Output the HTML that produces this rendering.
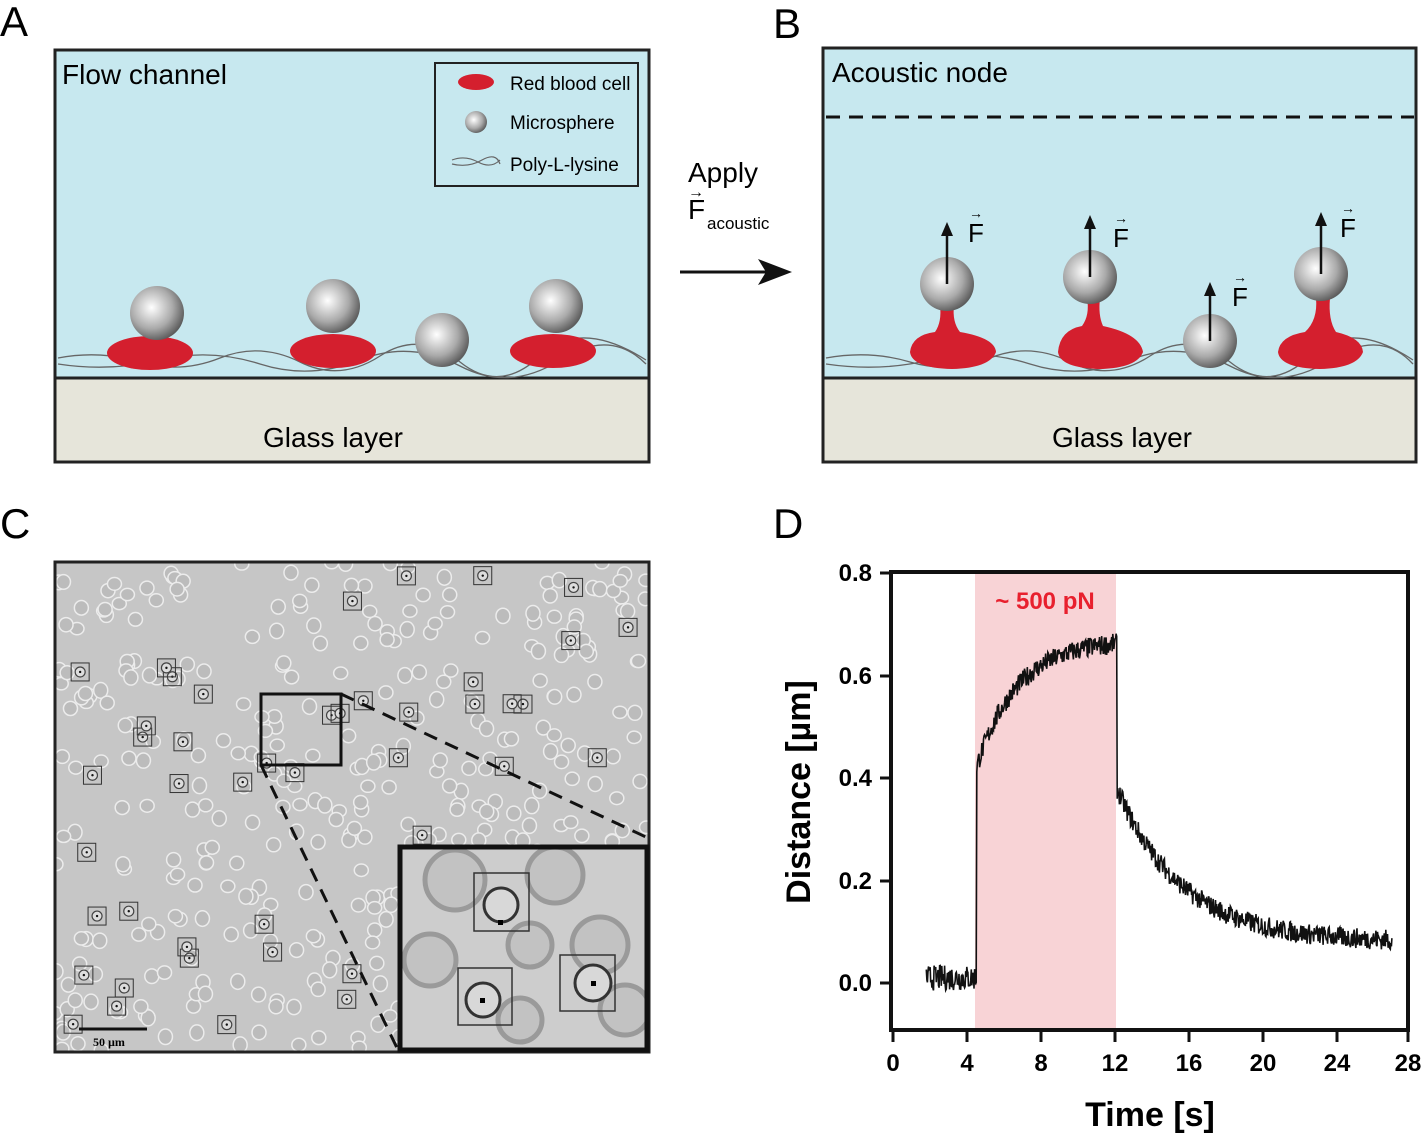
<!DOCTYPE html>
<html><head><meta charset="utf-8"><style>
body{margin:0;background:#fff;width:1425px;height:1135px;overflow:hidden;font-family:"Liberation Sans",sans-serif}
svg{position:absolute;left:0;top:0}
</style></head><body>
<svg id="s" width="1425" height="1135" viewBox="0 0 1425 1135" font-family="Liberation Sans, sans-serif">
<defs>
<radialGradient id="g" cx="0.4" cy="0.4" r="0.65"><stop offset="0" stop-color="#fff"/><stop offset="0.6" stop-color="#aaa"/><stop offset="1" stop-color="#555"/></radialGradient>
<clipPath id="cc"><rect x="55" y="562" width="594" height="490"/></clipPath>
<clipPath id="ci"><rect x="400" y="847" width="247" height="203"/></clipPath>
</defs>
<text x="0" y="36" font-size="42">A</text>
<text x="773" y="38" font-size="42">B</text>
<text x="0" y="538" font-size="42">C</text>
<text x="773" y="538" font-size="42">D</text>
<!-- Panel A -->
<rect x="55" y="50" width="594" height="328" fill="#c7e8ef" stroke="#222" stroke-width="3"/>
<rect x="55" y="378" width="594" height="84" fill="#e6e5da" stroke="#222" stroke-width="3"/>
<text x="62" y="84" font-size="28">Flow channel</text>
<text x="333" y="447" font-size="28" text-anchor="middle">Glass layer</text>
<g fill="none" stroke="#666" stroke-width="1.3">
<path d="M58 358 Q100 350 140 362 T220 358 T300 362 T380 356 T460 362 T540 356 T646 360"/>
<path d="M58 364 Q110 372 160 360 T260 364 T360 360 T460 366 T560 360 T646 364"/>
</g>
<rect x="435" y="63" width="203" height="123" fill="none" stroke="#222" stroke-width="2"/>
<ellipse cx="476" cy="82" rx="18" ry="8" fill="#d41f2e"/>
<text x="510" y="90" font-size="19">Red blood cell</text>
<circle cx="476" cy="122" r="11" fill="url(#g)"/>
<text x="510" y="129" font-size="19">Microsphere</text>
<path d="M452 160 Q465 155 478 162 T500 160 M452 164 Q468 168 482 160 T500 164" fill="none" stroke="#666" stroke-width="1.2"/>
<text x="510" y="171" font-size="19">Poly-L-lysine</text>
<ellipse cx="150" cy="353" rx="43" ry="17" fill="#d41f2e"/>
<ellipse cx="333" cy="351" rx="43" ry="17" fill="#d41f2e"/>
<ellipse cx="553" cy="351" rx="43" ry="17" fill="#d41f2e"/>
<circle cx="157" cy="313" r="27" fill="url(#g)"/>
<circle cx="333" cy="306" r="27" fill="url(#g)"/>
<circle cx="442" cy="340" r="27" fill="url(#g)"/>
<circle cx="556" cy="306" r="27" fill="url(#g)"/>
<text x="688" y="182" font-size="28">Apply</text>
<text x="688" y="219" font-size="28">F</text>
<text x="688" y="197" font-size="16">→</text>
<text x="707" y="229" font-size="17">acoustic</text>
<line x1="680" y1="272" x2="770" y2="272" stroke="#111" stroke-width="3"/>
<polygon points="792,272 758,259 766,272 758,285" fill="#111"/>
<!-- Panel B -->
<rect x="823" y="48" width="593" height="330" fill="#c7e8ef" stroke="#222" stroke-width="3"/>
<rect x="823" y="378" width="593" height="84" fill="#e6e5da" stroke="#222" stroke-width="3"/>
<text x="832" y="82" font-size="28">Acoustic node</text>
<line x1="826" y1="117" x2="1414" y2="117" stroke="#111" stroke-width="3" stroke-dasharray="14 9"/>
<text x="1122" y="447" font-size="28" text-anchor="middle">Glass layer</text>
<g fill="none" stroke="#666" stroke-width="1.3">
<path d="M826 358 Q870 350 910 362 T990 358 T1070 362 T1150 356 T1230 362 T1310 356 T1413 360"/>
<path d="M826 364 Q880 372 930 360 T1030 364 T1130 360 T1230 366 T1330 360 T1413 364"/>
</g>
<g fill="#d41f2e">
<path d="M910 352 Q912 335 935 332 Q942 322 940 305 L954 305 Q952 322 960 332 Q995 338 996 352 Q990 368 952 369 Q912 368 910 352Z"/>
<path d="M1058 352 Q1060 330 1082 326 Q1090 315 1087 298 L1100 298 Q1098 315 1103 326 Q1140 334 1143 352 Q1137 368 1100 369 Q1060 368 1058 352Z"/>
<path d="M1278 352 Q1280 336 1305 332 Q1318 320 1316 298 L1330 298 Q1328 320 1336 332 Q1362 338 1363 352 Q1357 368 1320 369 Q1280 368 1278 352Z"/>
</g>
<circle cx="947" cy="284" r="27" fill="url(#g)"/>
<circle cx="1090" cy="277" r="27" fill="url(#g)"/>
<circle cx="1210" cy="341" r="27" fill="url(#g)"/>
<circle cx="1321" cy="274" r="27" fill="url(#g)"/>
<g stroke="#111" stroke-width="2.5" fill="#111">
<line x1="947" y1="284" x2="947" y2="232"/><polygon points="947,222 941,236 953,236" stroke="none"/>
<line x1="1090" y1="277" x2="1090" y2="225"/><polygon points="1090,215 1084,229 1096,229" stroke="none"/>
<line x1="1210" y1="341" x2="1210" y2="292"/><polygon points="1210,282 1204,296 1216,296" stroke="none"/>
<line x1="1321" y1="274" x2="1321" y2="222"/><polygon points="1321,212 1315,226 1327,226" stroke="none"/>
</g>
<g font-size="26"><text x="968" y="242">F</text><text x="1113" y="247">F</text><text x="1232" y="306">F</text><text x="1340" y="237">F</text></g>
<g font-size="14"><text x="969" y="218">→</text><text x="1114" y="223">→</text><text x="1233" y="282">→</text><text x="1341" y="213">→</text></g>
<!-- Panel C -->
<rect x="55" y="562" width="594" height="490" fill="#c6c6c6"/>
<g id="cells" clip-path="url(#cc)"></g>
<rect x="55" y="562" width="594" height="490" fill="none" stroke="#222" stroke-width="3"/>
<rect x="261" y="694" width="80" height="71" fill="none" stroke="#111" stroke-width="3"/>
<line x1="341" y1="694" x2="648" y2="838" stroke="#111" stroke-width="3" stroke-dasharray="14 9"/>
<line x1="261" y1="765" x2="398" y2="1050" stroke="#111" stroke-width="3" stroke-dasharray="14 9"/>
<rect x="400" y="847" width="247" height="203" fill="#cdcdcd"/>
<g clip-path="url(#ci)" fill="#c2c2c2" stroke="#9a9a9a" stroke-width="5">
<circle cx="455" cy="880" r="30"/><circle cx="555" cy="875" r="28"/><circle cx="430" cy="960" r="26"/><circle cx="530" cy="945" r="22"/><circle cx="600" cy="945" r="28"/><circle cx="625" cy="1010" r="25"/><circle cx="520" cy="1020" r="22"/>
</g>
<g fill="none" stroke="#333" stroke-width="1.5">
<rect x="474" y="873" width="55" height="58"/><rect x="458" y="968" width="54" height="57"/><rect x="560" y="955" width="55" height="56"/>
<circle cx="501" cy="905" r="17" stroke-width="3" fill="#d8d8d8"/><circle cx="483" cy="1000" r="17" stroke-width="3" fill="#d8d8d8"/><circle cx="593" cy="983" r="18" stroke-width="3" fill="#d8d8d8"/>
</g>
<rect x="498" y="920" width="5" height="5"/><rect x="480" y="998" width="5" height="5"/><rect x="591" y="981" width="5" height="5"/>
<rect x="400" y="847" width="247" height="203" fill="none" stroke="#111" stroke-width="5"/>
<line x1="79" y1="1029" x2="147" y2="1029" stroke="#111" stroke-width="3"/>
<text x="93" y="1046" font-size="12" font-weight="bold" font-family="Liberation Serif, serif">50 µm</text>
<!-- Panel D -->
<rect x="975" y="573" width="141" height="456" fill="#f8d3d6"/>
<text x="1045" y="609" font-size="24" font-weight="bold" fill="#e8202e" text-anchor="middle">~ 500 pN</text>
<path id="trace" fill="none" stroke="#111" stroke-width="1.6"/>
<rect x="891" y="572" width="517" height="458" fill="none" stroke="#111" stroke-width="4"/>
<g font-size="24" font-weight="bold" text-anchor="end">
<text x="872" y="581">0.8</text><text x="872" y="684">0.6</text><text x="872" y="786">0.4</text><text x="872" y="889">0.2</text><text x="872" y="991">0.0</text>
</g>
<g stroke="#111" stroke-width="3"><line x1="880" y1="573" x2="891" y2="573"/><line x1="880" y1="676" x2="891" y2="676"/><line x1="880" y1="778" x2="891" y2="778"/><line x1="880" y1="881" x2="891" y2="881"/><line x1="880" y1="983" x2="891" y2="983"/></g>
<g font-size="24" font-weight="bold" text-anchor="middle">
<text x="893" y="1071">0</text><text x="967" y="1071">4</text><text x="1041" y="1071">8</text><text x="1115" y="1071">12</text><text x="1189" y="1071">16</text><text x="1263" y="1071">20</text><text x="1337" y="1071">24</text><text x="1408" y="1071">28</text>
</g>
<g stroke="#111" stroke-width="3"><line x1="893" y1="1030" x2="893" y2="1042"/><line x1="967" y1="1030" x2="967" y2="1042"/><line x1="1041" y1="1030" x2="1041" y2="1042"/><line x1="1115" y1="1030" x2="1115" y2="1042"/><line x1="1189" y1="1030" x2="1189" y2="1042"/><line x1="1263" y1="1030" x2="1263" y2="1042"/><line x1="1337" y1="1030" x2="1337" y2="1042"/><line x1="1408" y1="1030" x2="1408" y2="1042"/></g>
<text x="1150" y="1126" font-size="34" font-weight="bold" text-anchor="middle">Time [s]</text>
<text transform="translate(810 792) rotate(-90)" font-size="34" font-weight="bold" text-anchor="middle">Distance  [µm]</text>
</svg>
<script>
var seed=7;function r(){seed=(seed*16807)%2147483647;return seed/2147483647;}
var ns="http://www.w3.org/2000/svg",g=document.getElementById("cells");
function add(tag,a){var e=document.createElementNS(ns,tag);for(var k in a)e.setAttribute(k,a[k]);g.appendChild(e);return e;}
for(var i=0;i<420;i++){var x=55+r()*594,y=562+r()*490;add("ellipse",{cx:x,cy:y,rx:7,ry:6+r()*2,fill:"#bcbcbc",stroke:"#ececec","stroke-width":1.5});}
for(var i=0;i<55;i++){var x=70+r()*570,y=575+r()*465;if(x>395&&y>840)continue;add("rect",{x:x-9,y:y-9,width:18,height:18,fill:"none",stroke:"#333","stroke-width":1});add("circle",{cx:x,cy:y,r:5,fill:"#ddd",stroke:"#444","stroke-width":1.2});add("circle",{cx:x,cy:y,r:1.2,fill:"#111"});}
var X=function(t){return 893+t*18.5},Y=function(v){return 983-v*512.5};
var d="";for(var t=1.8;t<27;t+=0.03){var v;
if(t<4.5)v=0.01+(r()-0.5)*0.05;
else if(t<12.1)v=0.42+0.25*(1-Math.exp(-(t-4.5)/2.2))+(r()-0.5)*0.04;
else v=0.08+0.3*Math.exp(-(t-12.1)/3.5)+(r()-0.5)*0.04;
d+=(d?"L":"M")+X(t).toFixed(1)+" "+Y(v).toFixed(1);}
document.getElementById("trace").setAttribute("d",d);
</script>
</body></html>
